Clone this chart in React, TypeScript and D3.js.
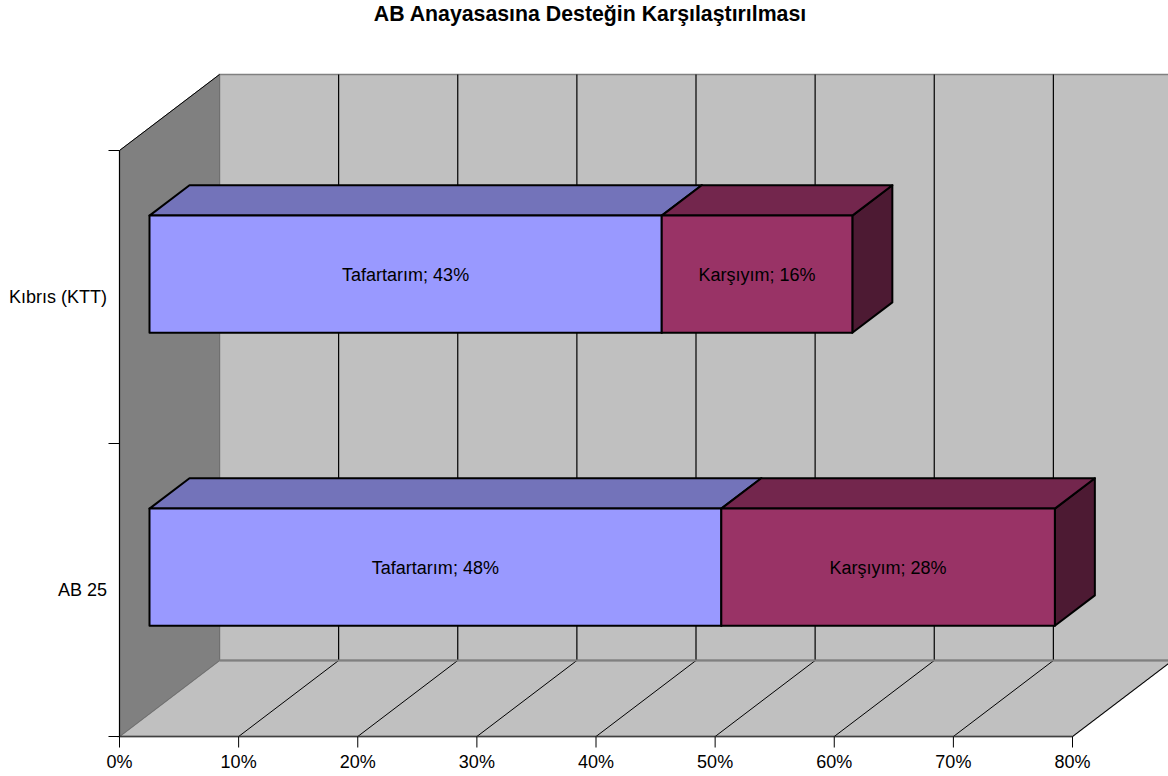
import React from "react";
import * as d3 from "d3";

const title = "AB Anayasasına Desteğin Karşılaştırılması";
const categories = ["Kıbrıs (KTT)", "AB 25"];
const seriesNames = ["Tafartarım", "Karşıyım"];
const tafartarim = [43, 48];
const karsiyim = [16, 28];
const ticks = [0, 10, 20, 30, 40, 50, 60, 70, 80];
const seriesFill = ["#9999FF", "#993366"];
const seriesTop = ["#7373BA", "#73264D"];
const seriesSide = ["#4D4D80", "#4D1A33"];

const W = 1168, H = 776;
const x = d3.scaleLinear().domain([0, 80]).range([119.5, 1072.5]);
const yBand = d3.scaleBand().domain(categories).range([150.5, 736.5]).paddingInner(0).paddingOuter(0);
const depth = d3.scaleLinear().domain([0, 1]).range([0, 1]);
const DX = 100, DY = -76;
const top = 150.5, bottom = 736.5;
const font = "'Liberation Sans', Arial, sans-serif";
const pts = (a: number[][]) => a.map((p) => p.join(",")).join(" ");

export default function App() {
  const x0 = x(0), x80 = x(80);
  const bw = yBand.bandwidth();
  const series = [tafartarim, karsiyim];
  const barD = depth(0.4) * DX, barDY = depth(0.4) * DY;
  const ox = depth(0.3) * DX, oy = depth(0.3) * DY;
  return (
    <svg width={W} height={H} style={{ position: "absolute", left: 0, top: 0, display: "block" }}>
      <rect width={W} height={H} fill="#fff" />
      <text x={590} y={21} textAnchor="middle" fontFamily={font} fontSize={21.3} fontWeight="bold" fill="#000">{title}</text>

      {/* walls */}
      <polygon points={pts([[x0 + DX, top + DY], [x80 + DX, top + DY], [x80 + DX, bottom + DY], [x0 + DX, bottom + DY]])} fill="#C0C0C0" stroke="#808080" strokeWidth={1.5} />
      <polygon points={pts([[x0, bottom], [x80, bottom], [x80 + DX, bottom + DY], [x0 + DX, bottom + DY]])} fill="#C0C0C0" stroke="#808080" strokeWidth={1.5} />
      <polygon points={pts([[x0, top], [x0 + DX, top + DY], [x0 + DX, bottom + DY], [x0, bottom]])} fill="#808080" stroke="#707070" strokeWidth={1} />

      {/* gridlines */}
      {ticks.slice(1).map((t) => (
        <g key={t} stroke="#000" fill="none">
          <line x1={x(t) + DX} x2={x(t) + DX} y1={top + DY} y2={bottom + DY} strokeWidth={1.2} />
          <line x1={x(t) + DX} x2={x(t)} y1={bottom + DY} y2={bottom} strokeWidth={1} />
        </g>
      ))}
      <line x1={x0 + DX} x2={W} y1={bottom + DY} y2={bottom + DY} stroke="#808080" strokeWidth={2} />

      {/* axes */}
      <line x1={x0} x2={x80} y1={bottom} y2={bottom} stroke="#404040" strokeWidth={1.5} />
      <line x1={x0} x2={x0} y1={top} y2={bottom} stroke="#000" strokeWidth={1.2} />
      <line x1={x0} x2={x0 + DX} y1={top} y2={top + DY} stroke="#000" strokeWidth={1} />
      {[0, 1, 2].map((i) => {
        const y = top + i * bw;
        return <line key={i} x1={x0 - 11} x2={x0} y1={y} y2={y} stroke="#000" strokeWidth={1} />;
      })}
      {ticks.map((t) => (
        <g key={t}>
          <line x1={x(t)} x2={x(t)} y1={bottom} y2={bottom + 11} stroke="#000" strokeWidth={1} />
          <text x={x(t)} y={768} textAnchor="middle" fontFamily={font} fontSize={18} fill="#000">{t}%</text>
        </g>
      ))}
      {categories.map((c) => (
        <text key={c} x={107} y={(yBand(c) as number) + bw / 2 + 6} textAnchor="end" fontFamily={font} fontSize={18} fill="#000">{c}</text>
      ))}

      {/* bars */}
      {categories.map((c, ci) => {
        const bh = bw * 0.4;
        const yT = (yBand(c) as number) + bw * 0.3 + oy;
        const yB = yT + bh;
        let acc = 0;
        return (
          <g key={c} stroke="#000" strokeWidth={2} strokeLinejoin="round">
            {series.map((s, si) => {
              const xa = x(acc) + ox;
              acc += s[ci];
              const xb = x(acc) + ox;
              return (
                <g key={si}>
                  <polygon points={pts([[xb, yT], [xb + barD, yT + barDY], [xb + barD, yB + barDY], [xb, yB]])} fill={seriesSide[si]} />
                  <polygon points={pts([[xa, yT], [xb, yT], [xb + barD, yT + barDY], [xa + barD, yT + barDY]])} fill={seriesTop[si]} />
                  <rect x={xa} y={yT} width={xb - xa} height={bh} fill={seriesFill[si]} />
                </g>
              );
            })}
            {(() => {
              let a2 = 0;
              return series.map((s, si) => {
                const xa = x(a2) + ox;
                a2 += s[ci];
                const xb = x(a2) + ox;
                return (
                  <text key={si} x={(xa + xb) / 2} y={(yT + yB) / 2 + 7} textAnchor="middle" fontFamily={font} fontSize={18} fill="#000" stroke="none">
                    {seriesNames[si]}; {s[ci]}%
                  </text>
                );
              });
            })()}
          </g>
        );
      })}
    </svg>
  );
}
